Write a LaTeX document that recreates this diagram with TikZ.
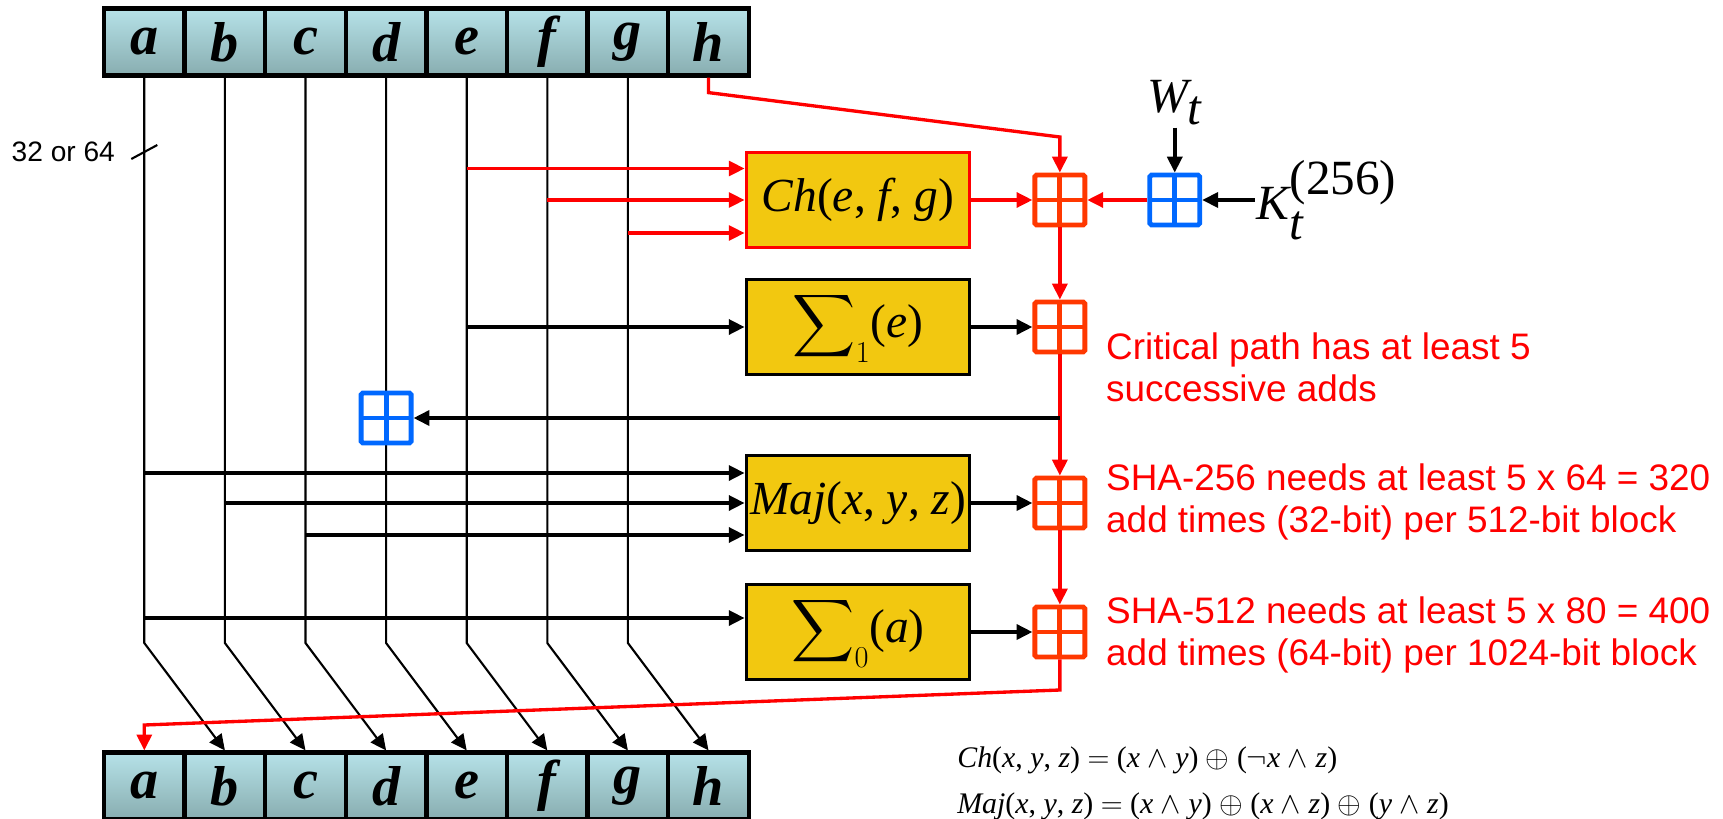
\documentclass[tikz,border=0pt]{standalone}
\usepackage{exscale}
\usepackage{fontspec}
\setmainfont{Liberation Serif}
\setsansfont{Liberation Sans}
\usetikzlibrary{arrows.meta, positioning, calc}
\definecolor{regtop}{RGB}{182, 226, 232}
\definecolor{regbot}{RGB}{136, 173, 176}
\definecolor{boxgold}{RGB}{242, 200, 16}
\definecolor{addorange}{RGB}{255, 56, 0}
\definecolor{addblue}{RGB}{0, 104, 255}
\definecolor{pathred}{RGB}{255, 0, 0}

\begin{document}
\begin{tikzpicture}[
    x=0.02cm, y=-0.02cm,
    >={Triangle[length=9pt, width=8.5pt]},
    regcell/.style={draw, line width=2.4pt, top color=regtop, bottom color=regbot,
        minimum width=1.612cm, minimum height=1.34cm, inner sep=0pt,
        font=\fontsize{32}{34}\selectfont\bfseries\itshape},
    funcbox/.style={draw, line width=2.2pt, fill=boxgold, minimum width=4.46cm,
        minimum height=1.9cm, inner sep=0pt, font=\fontsize{27}{30}\selectfont},
    adder/.style={draw=#1, line width=2.8pt, fill=white, rounded corners=1pt,
        minimum size=1cm, inner sep=0pt,
        path picture={\draw[#1, line width=2.8pt]
            (path picture bounding box.north) -- (path picture bounding box.south)
            (path picture bounding box.west) -- (path picture bounding box.east);}},
    adder/.default=addorange,
    wire/.style={line width=1.2pt},
    flow/.style={->, line width=2pt},
    redflow/.style={->, line width=1.9pt, pathred},
    note/.style={anchor=west, align=left, text=pathred,
        font=\sffamily\fontsize{21}{24}\selectfont}
]
    \useasboundingbox (0,0) rectangle (1723,818);

    % registers
    \foreach \l [count=\i] in {a,b,c,d,e,f,g,h} {
        \node[regcell] (in-\l) at ({104+80.6*(\i-0.5)},42) {\l};
        \node[regcell] (out-\l) at ({104+80.6*(\i-0.5)},786) {\l};
    }

    % word wires, shifted by one place
    \coordinate (kink) at (0,643);
    \foreach \l/\n in {a/b,b/c,c/d,d/e,e/f,f/g,g/h}
        \draw[wire, ->] (in-\l.south) -- (in-\l |- kink) -- (out-\n.north);

    \draw[wire] (in-a |- 0,152) ++(-13,7) -- ++(26,-14);
    \node[anchor=east, inner sep=1pt, font=\sffamily\fontsize{16}{18}\selectfont] (width)
        at (117,152) {32 or 64};

    % function boxes
    \node[funcbox, draw=pathred] (ch) at (858,200)
        {\textit{Ch}(\textit{e}, \textit{f}, \textit{g})};
    \node[funcbox] (sigone) at (858,327)
        {{\fontsize{24}{26}\selectfont\(\displaystyle\sum\nolimits_{\scriptstyle 1}\)}(\textit{e})};
    \node[funcbox] (maj) at (858,503)
        {\textit{Maj}(\textit{x}, \textit{y}, \textit{z})};
    \node[funcbox] (sigzero) at (858,632)
        {{\fontsize{24}{26}\selectfont\(\displaystyle\sum\nolimits_{\scriptstyle 0}\)}(\textit{a})};

    % adders
    \node[adder, right=1.22cm of ch] (addch) {};
    \node[adder, right=1.22cm of sigone] (addsig) {};
    \node[adder, right=1.22cm of maj] (addmaj) {};
    \node[adder, right=1.22cm of sigzero] (addsz) {};
    \node[adder=addblue, right=1.2cm of addch] (addw) {};
    \node[adder=addblue] (addd) at (in-d |- 0,418) {};

    \node[above=0.9cm of addw, inner sep=1pt, font=\fontsize{28}{30}\selectfont] (wt)
        {\(\textit{W}_{\textit{t}}\)};
    \node[right=1.05cm of addw, inner sep=1pt, font=\fontsize{28}{30}\selectfont] (kt)
        {\(\textit{K}_{\textit{t}}^{\scriptscriptstyle\textup{(256)}}\)};

    % inputs of the boxes
    \coordinate (ch-1) at ([yshift=0.63cm]ch.west);
    \coordinate (ch-3) at ([yshift=-0.66cm]ch.west);
    \draw[redflow] (in-e |- ch-1) -- (ch-1);
    \draw[redflow] (in-f |- ch.west) -- (ch.west);
    \draw[redflow] (in-g |- ch-3) -- (ch-3);
    \draw[flow] (in-e |- sigone.west) -- (sigone.west);
    \coordinate (maj-1) at ([yshift=0.6cm]maj.west);
    \coordinate (maj-3) at ([yshift=-0.64cm]maj.west);
    \draw[flow] (in-a |- maj-1) -- (maj-1);
    \draw[flow] (in-b |- maj.west) -- (maj.west);
    \draw[flow] (in-c |- maj-3) -- (maj-3);
    \coordinate (sz-1) at ([yshift=0.28cm]sigzero.west);
    \draw[flow] (in-a |- sz-1) -- (sz-1);

    % outputs and the critical path
    \draw[redflow] (ch) -- (addch);
    \draw[flow] (sigone) -- (addsig);
    \draw[flow] (maj) -- (addmaj);
    \draw[flow] (sigzero) -- (addsz);
    \draw[flow] (wt) -- (addw);
    \draw[flow] (kt) -- (addw);
    \draw[redflow] (addw) -- (addch);
    \draw[redflow] (in-h.south) -- ++(0,15) -- (addch.north |- 0,137) -- (addch.north);
    \draw[redflow] (addch) -- (addsig);
    \draw[redflow] (addsig) -- (addmaj);
    \draw[redflow] (addmaj) -- (addsz);
    \draw[flow] (addsig.south |- addd) -- (addd);
    \draw[redflow] (addsz.south) -- (addsz.south |- 0,690) -- (out-a.north |- 0,725)
        -- (out-a.north);

    % remarks
    \node[note] (crit) at (1100,367) {Critical path has at least 5\\successive adds};
    \node[note] (sha256) at (1100,502)
        {SHA-256 needs at least 5 x 64 = 320\\add times (32-bit) per 512-bit block};
    \node[note] (sha512) at (1100,635)
        {SHA-512 needs at least 5 x 80 = 400\\add times (64-bit) per 1024-bit block};

    \node[anchor=west, inner sep=0pt, font=\fontsize{17}{20}\selectfont] (chdef) at (957,760)
        {\textit{Ch}(\textit{x}, \textit{y}, \textit{z}) \(=\) (\textit{x} \(\wedge\) \textit{y})
        \(\oplus\) (\(\neg\)\textit{x} \(\wedge\) \textit{z})};
    \node[anchor=west, inner sep=0pt, font=\fontsize{17}{20}\selectfont] (majdef) at (957,806)
        {\textit{Maj}(\textit{x}, \textit{y}, \textit{z}) \(=\) (\textit{x} \(\wedge\) \textit{y})
        \(\oplus\) (\textit{x} \(\wedge\) \textit{z}) \(\oplus\) (\textit{y} \(\wedge\) \textit{z})};
\end{tikzpicture}
\end{document}
